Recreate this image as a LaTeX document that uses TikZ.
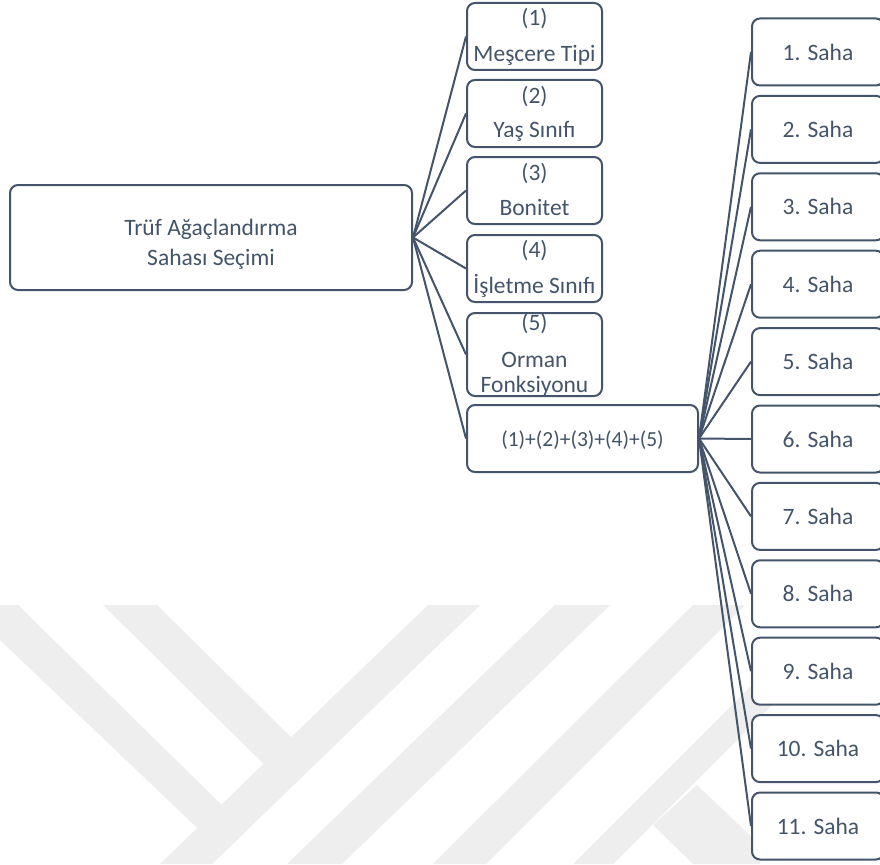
\documentclass[tikz,border=0pt]{standalone}
\usepackage{fontspec}
\setmainfont{Carlito}
\definecolor{ink}{HTML}{44546A}
\definecolor{mark}{HTML}{EEEEEE}
\tikzset{
  box/.style={draw=ink, line width=2pt, rounded corners=8pt, fill=white, inner sep=0pt},
  conn/.style={draw=ink, line width=2pt},
  lbl/.style={text=ink, font=\fontsize{23.5}{28}\selectfont, inner sep=0pt, anchor=base},
  saha/.style={box, minimum width=132pt, minimum height=67pt, text=ink, font=\fontsize{23.5}{28}\selectfont},
  wm/.style={fill=mark, draw=none}
}
\begin{document}
\begin{tikzpicture}[x=1pt,y=-1pt]
\useasboundingbox (0,0) rectangle (880,864);
\fill[white] (0,0) rectangle (880,864);

% faint background emblem
\fill[wm] (0,605) -- (18,605) -- (232,815) -- (212,842) -- (0,640) -- cycle;
\fill[wm] (103,605) -- (157,605) -- (300,746) -- (275,775) -- cycle;
\fill[wm] (428,605) -- (480,605) -- (212,864) -- (160,864) -- cycle;
\fill[wm] (555,605) -- (610,605) -- (342,864) -- (287,864) -- cycle;
\fill[wm] (693,605) -- (745,605) -- (486,864) -- (433,864) -- cycle;
\fill[wm] (760,677) -- (800,677) -- (613,864) -- (573,864) -- cycle;
\fill[wm] (697,785) -- (760,845) -- (760,864) -- (693,864) -- (653,825) -- cycle;

% root box
\node[box, minimum width=402pt, minimum height=105pt] (root) at (211,237.5) {};
\node[lbl] (r1) at (211,235) {Trüf Ağaçlandırma};
\node[lbl] (r2) at (211,265) {Sahası Seçimi};

% criteria boxes
\node[box, minimum width=135pt, minimum height=67pt] (c1) at (534.5,36.5) {};
\node[box, minimum width=135pt, minimum height=67pt] (c2) at (534.5,113.5) {};
\node[box, minimum width=135pt, minimum height=67pt] (c3) at (534.5,190.5) {};
\node[box, minimum width=135pt, minimum height=67pt] (c4) at (534.5,268.5) {};
\node[box, minimum width=135pt, minimum height=83pt] (c5) at (534.5,354.5) {};
\node[box, minimum width=231pt, minimum height=67pt] (sum) at (582.5,438.5) {};

\node[lbl] (c1a) at (534.5,26) {(1)};
\node[lbl] (c1b) at (534.5,62) {Meşcere Tipi};
\node[lbl] (c2a) at (534.5,103) {(2)};
\node[lbl] (c2b) at (534.5,138) {Yaş Sınıfı};
\node[lbl] (c3a) at (534.5,180) {(3)};
\node[lbl] (c3b) at (534.5,215) {Bonitet};
\node[lbl] (c4a) at (534.5,257) {(4)};
\node[lbl] (c4b) at (534.5,293) {İşletme Sınıfı};
\node[lbl] (c5a) at (534.5,330) {(5)};
\node[lbl] (c5b) at (534.5,367) {Orman};
\node[lbl] (c5c) at (534.5,392) {Fonksiyonu};
\node[lbl, font=\fontsize{21.5}{26}\selectfont] (suma) at (582.5,446) {(1)+(2)+(3)+(4)+(5)};

% connectors from the root
\foreach \c in {c1,c2,c3,c4,c5,sum}
  \draw[conn] (root.east) -- (\c.west);

% site boxes
\foreach \k in {1,...,11}
  \node[saha] (s\k) at (818,{52+77.4*(\k-1)}) {\k. Saha};

\foreach \k in {1,...,11}
  \draw[conn] (sum.east) -- (s\k.west);
\end{tikzpicture}
\end{document}
